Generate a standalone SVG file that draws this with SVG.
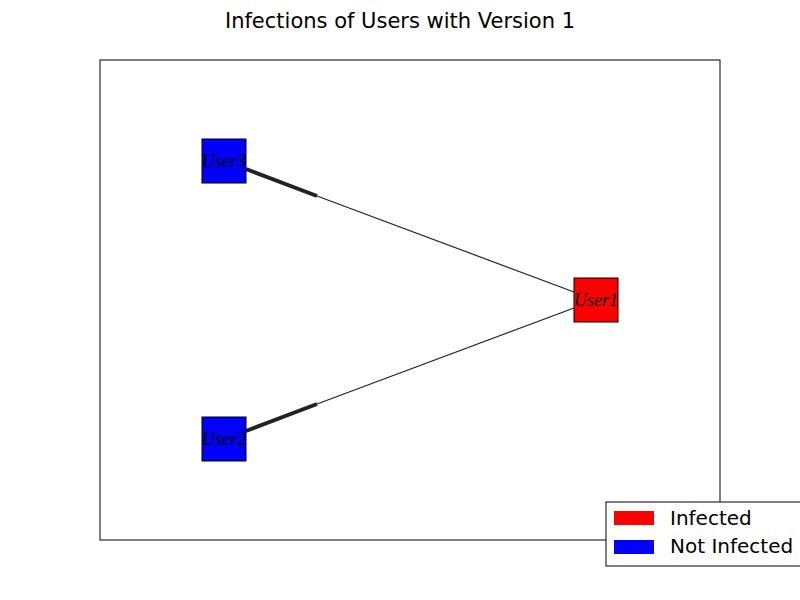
<svg xmlns="http://www.w3.org/2000/svg" width="800" height="600" viewBox="0 0 800 600">
<style>
.node rect{stroke:#000;stroke-width:1}
.lbl{font-family:"Liberation Serif","DejaVu Serif",serif;font-style:italic;font-size:18px;text-anchor:middle}
.edge{stroke:#222;stroke-width:1.2;fill:none}
.head{stroke:#222;stroke-width:4;fill:none}
.txt{font-family:"DejaVu Sans","Liberation Sans",sans-serif;font-size:20px}
.title{font-family:"DejaVu Sans","Liberation Sans",sans-serif;font-size:21px;text-anchor:middle}
</style>
<rect width="800" height="600" fill="#fff"/>
<text x="400" y="28" class="title">Infections of Users with Version 1</text>
<rect x="100" y="60" width="620" height="480" fill="none" stroke="#000" stroke-width="1"/>
<g id="connectors">
<line class="edge" x1="574" y1="292" x2="317" y2="196"/>
<line class="head" x1="317" y1="196" x2="246" y2="169"/>
<line class="edge" x1="574" y1="308" x2="317" y2="404"/>
<line class="head" x1="317" y1="404" x2="246" y2="431"/>
</g>
<g id="User3" class="node"><rect x="202" y="139" width="44" height="44" fill="#0000ff"/><text class="lbl" x="224" y="167" textLength="44" lengthAdjust="spacingAndGlyphs">User3</text></g>
<g id="User2" class="node"><rect x="202" y="417" width="44" height="44" fill="#0000ff"/><text class="lbl" x="224" y="445" textLength="44" lengthAdjust="spacingAndGlyphs">User2</text></g>
<g id="User1" class="node"><rect x="574" y="278" width="44" height="44" fill="#ff0000"/><text class="lbl" x="596" y="306" textLength="44" lengthAdjust="spacingAndGlyphs">User1</text></g>
<g id="legend">
<rect x="606" y="502" width="196" height="64" fill="#fff" stroke="#000" stroke-width="1"/>
<rect x="614" y="511" width="40" height="14" fill="#ff0000"/>
<rect x="614" y="540" width="40" height="14" fill="#0000ff"/>
<text class="txt" x="670" y="525">Infected</text>
<text class="txt" x="670" y="553">Not Infected</text>
</g>
</svg>
